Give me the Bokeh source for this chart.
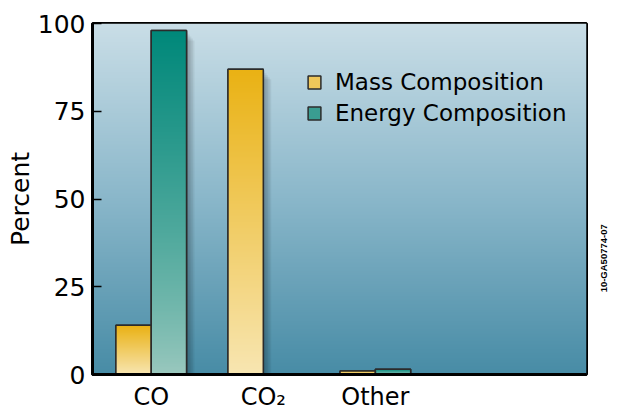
import numpy as np
from bokeh.plotting import figure
from bokeh.models import FixedTicker, Legend, LegendItem, LinearAxis
from bokeh.embed import file_html
from bokeh.resources import INLINE

# ---- data ----
categories = ["CO", "CO\u2082", "Other"]
series = ["Mass Composition", "Energy Composition"]
mass = [14, 87, 1.0]
energy = [98, 0, 1.5]
y_ticks = [0, 25, 50, 75, 100]
code_label = "10-GA50774-07"

FONT = "DejaVu Sans"
xs = np.arange(1, len(categories) + 1, dtype=float)
bw = 0.315

p = figure(width=617, height=413, x_range=(0.476, 4.884), y_range=(0, 100),
           output_backend="svg", toolbar_location=None,
           min_border_left=92, min_border_right=29, min_border_top=23, min_border_bottom=37)

def grad(c_bot, c_top, n=256, gamma=1.0):
    t = np.linspace(0, 1, n) ** gamma
    img = np.empty((n, 1), dtype=np.uint32)
    v = img.view(dtype=np.uint8).reshape((n, 1, 4))
    for i in range(3):
        v[:, 0, i] = (c_bot[i] + (c_top[i] - c_bot[i]) * t).astype(np.uint8)
    v[:, 0, 3] = 255
    return img

def grad3(c_bot, c_mid, c_top, n=256):
    t = np.linspace(0, 1, n)
    img = np.empty((n, 1), dtype=np.uint32)
    v = img.view(dtype=np.uint8).reshape((n, 1, 4))
    for i in range(3):
        v[:, 0, i] = np.interp(t, [0, 0.5, 1], [c_bot[i], c_mid[i], c_top[i]]).astype(np.uint8)
    v[:, 0, 3] = 255
    return img

# background gradient
x0, x1 = p.x_range.start, p.x_range.end
p.image_rgba(image=[grad3((72, 140, 166), (138, 183, 202), (202, 222, 231))],
             x=x0, y=0, dw=x1 - x0, dh=100)

# bar data
mx = [x - bw / 2 for x, v in zip(xs, mass) if v > 0]
mv = [v for v in mass if v > 0]
ex = [x + bw / 2 for x, v in zip(xs, energy) if v > 0]
ev = [v for v in energy if v > 0]

# shadows
px_x = 1 / 112.5
px_y = 1 / 3.5
for k in range(1, 6):
    for bx, bv in ((mx, mv), (ex, ev)):
        tops = [max(v - 2 * k * px_y, 0) for v in bv]
        p.vbar(x=[b + 1.6 * k * px_x for b in bx], width=bw, top=tops, bottom=0,
               fill_color="black", fill_alpha=0.06, line_color=None)

# flat base bars (also used as legend glyphs)
r_m = p.vbar(x=mx, width=bw, top=mv, bottom=0, fill_color="#efc75a",
             line_color="#2b2b2b", line_width=1.5)
r_e = p.vbar(x=ex, width=bw, top=ev, bottom=0, fill_color="#3a9d91",
             line_color="#2b2b2b", line_width=1.5)

# gradient bar fills
for b, v in zip(mx, mv):
    p.image_rgba(image=[grad((248, 230, 178), (234, 178, 20))],
                 x=b - bw / 2, y=0, dw=bw, dh=v)
for b, v in zip(ex, ev):
    p.image_rgba(image=[grad((156, 201, 191), (0, 136, 122), gamma=0.8)],
                 x=b - bw / 2, y=0, dw=bw, dh=v)

# outlines
p.vbar(x=mx, width=bw, top=mv, bottom=0, fill_alpha=0, line_color="#2b2b2b", line_width=1.5)
p.vbar(x=ex, width=bw, top=ev, bottom=0, fill_alpha=0, line_color="#2b2b2b", line_width=1.5)

legend = Legend(items=[LegendItem(label=series[0], renderers=[r_m]),
                       LegendItem(label=series[1], renderers=[r_e])],
                location=(214, 246), padding=0, margin=0, spacing=0,
                glyph_width=16, glyph_height=16, label_standoff=13, label_height=31,
                label_text_font=FONT, label_text_font_size="23px", label_text_color="black",
                border_line_alpha=0, background_fill_alpha=0)
p.add_layout(legend)

# axes
p.xgrid.visible = False
p.ygrid.visible = False
p.outline_line_color = "black"
p.outline_line_width = 3
p.outline_line_alpha = 1
p.background_fill_color = None
p.border_fill_color = "white"

ya = p.yaxis[0]
ya.ticker = FixedTicker(ticks=y_ticks)
ya.axis_label = "Percent"
ya.axis_label_text_font = FONT
ya.axis_label_text_font_size = "25px"
ya.axis_label_text_font_style = "normal"
ya.axis_label_text_color = "black"
ya.axis_label_standoff = 0
ya.major_label_text_font = FONT
ya.major_label_text_font_size = "25px"
ya.major_label_text_color = "black"
ya.major_label_standoff = 7
ya.major_tick_in = 9
ya.major_tick_out = 0
ya.major_tick_line_width = 1.5
ya.major_tick_line_color = "black"
ya.minor_tick_line_color = None
ya.axis_line_width = 3
ya.axis_line_color = "black"

xa = p.xaxis[0]
xa.ticker = FixedTicker(ticks=list(xs))
xa.major_label_overrides = {float(x): c for x, c in zip(xs, categories)}
xa.major_label_text_font = FONT
xa.major_label_text_font_size = "24px"
xa.major_label_text_color = "black"
xa.major_label_standoff = 8
xa.major_tick_line_color = None
xa.major_tick_in = 0
xa.major_tick_out = 0
xa.minor_tick_line_color = None
xa.axis_line_width = 3
xa.axis_line_color = "black"

# figure code, drawn as a vertical tick label of a bare right axis
code_pos = 23.4
ra = LinearAxis(ticker=FixedTicker(ticks=[code_pos]),
                major_label_overrides={code_pos: code_label},
                major_label_orientation=np.pi / 2,
                major_label_text_font="Liberation Sans",
                major_label_text_font_size="9.5px",
                major_label_text_font_style="bold",
                major_label_text_color="black",
                major_label_standoff=17,
                axis_line_color=None, major_tick_line_color=None,
                minor_tick_line_color=None, major_tick_in=0, major_tick_out=0)
p.add_layout(ra, "right")

open("out.html", "w").write(file_html(p, INLINE))
